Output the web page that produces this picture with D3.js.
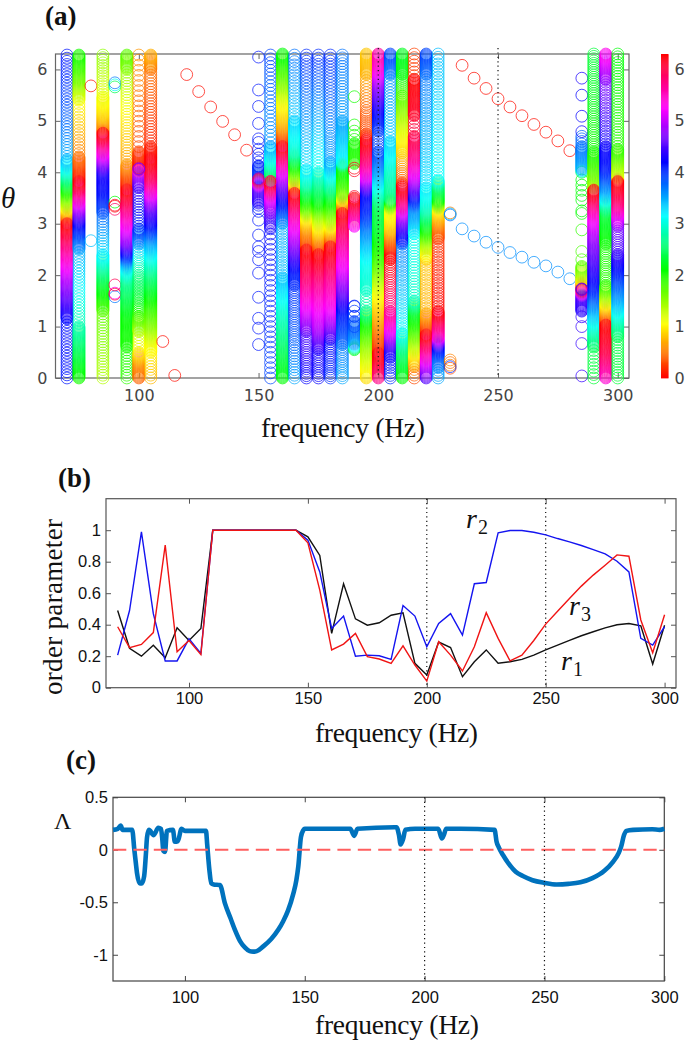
<!DOCTYPE html>
<html><head><meta charset="utf-8">
<script src="https://cdn.jsdelivr.net/npm/d3@7"></script>
<style>
html,body{margin:0;padding:0;background:#fff}
svg{display:block}
text{font-family:"Liberation Sans",sans-serif}
.serif{font-family:"Liberation Serif",serif;fill:#111}
</style></head><body><div id="c"></div>
<script>
// Panel (a): columns of phase stops: [theta, colour value (unwrapped), spacing to next stop]
const col70=[[0,4.1,.06],[1.15,4.15,.018],[1.5,4.5,.018],[2,5,.018],[3,6.28,.018],[3.3,7.4,.018],[3.6,8.2,.018],[4,9.3,.018],[4.25,9.7,.06],[5,10.05,.06],[6.28,10.4,0]];
const col75=[[0,2,.018],[1,2.8,.06],[2.5,3.5,.018],[3,4.2,.018],[3.5,5.5,.018],[3.82,6.28,.018],[4.3,6.75,.065],[5.4,7.35,.018],[5.8,7.9,.018],[6.28,8.3,0]];
const col85=[[0,1.35,.055],[1.3,1.7,.018],[1.84,2.3,.018],[2.1,2.7,.018],[2.4,3.2,.055],[3.2,3.8,.018],[3.55,4.1,.018],[4,4.3,.018],[4.25,5,.018],[4.76,6.28,.018],[4.85,6.8,.018],[5.15,7.2,.018],[5.47,7.4,.05],[6.28,7.8,0]];
const col95=[[0,1.9,.055],[.6,2,.018],[1.2,2.1,.018],[1.9,2.7,.018],[2.2,3.4,.018],[2.35,4,.018],[2.65,4.8,.018],[3,5.3,.018],[3.66,6.28,.018],[4.15,6.9,.055],[5.4,7.4,.055],[6,7.8,.018],[6.28,8,0]];
const col100=[[0,.4,.018],[.3,.6,.018],[.5,.95,.055],[.9,1.3,.018],[1.2,1.8,.04],[1.5,2.2,.03],[2,2.6,.045],[2.3,3,.05],[2.6,3.5,.018],[2.9,4,.055],[3.7,4.4,.018],[4,5,.018],[4.08,6.28,.018],[4.4,6.55,.1],[6.28,6.9,0]];
const col105=[[0,.75,.055],[.5,1,.018],[.7,1.1,.018],[1,1.5,.018],[1.5,2,.018],[2,2.6,.018],[2.35,3.1,.018],[2.7,3.6,.018],[3,4.2,.018],[3.3,4.6,.018],[3.6,5.3,.018],[3.9,5.9,.018],[4.27,6.28,.018],[4.5,6.4,.055],[6,6.75,.018],[6.28,7,0]];
const col155=[[0,3.9,.1],[2.9,4.2,.03],[3.2,4.6,.018],[3.5,5.2,.018],[3.82,6.28,.018],[3.83,8.5,.018],[4.2,9.3,.018],[4.5,9.8,.075],[6.28,10.2,0]];
const col160=[[0,2.1,.018],[.3,2.3,.018],[1.4,3,.018],[1.95,3.4,.05],[3,3.5,.018],[3.46,4.2,.018],[3.85,4.9,.018],[4.1,5.4,.018],[4.5,6.28,.018],[4.9,7,.018],[5.4,7.4,.018],[5.7,7.8,.018],[6.3,8.4,0]];
const col165=[[0,3.5,.055],[.7,3.8,.045],[1.8,4,.018],[2.1,4.1,.018],[2.6,4.8,.018],[3.07,5.4,.018],[3.59,6.28,.018],[3.65,6.7,.018],[3.85,7.6,.018],[4.1,8.3,.018],[4.4,9.2,.018],[5,9.6,.065],[6.28,10,0]];
const col170=[[0,4.2,.045],[.9,4.5,.018],[1.06,4.8,.018],[1.39,5.2,.018],[1.84,5.7,.018],[2.49,6.28,.018],[2.6,6.6,.018],[2.88,6.9,.018],[3.14,7.4,.018],[3.3,8,.018],[3.6,8.7,.018],[3.8,9.2,.018],[4.05,9.5,.06],[6.28,10.3,0]];
const col175=[[0,4.2,.045],[.55,4.3,.018],[.95,4.9,.018],[1.32,5.2,.018],[1.97,5.8,.018],[2.4,6.28,.018],[2.68,6.9,.018],[3.1,7.6,.018],[3.46,8.5,.018],[4,9.3,.06],[6.28,10.3,0]];
const col180=[[0,4,.045],[.75,4.2,.018],[.8,4.4,.018],[1.1,4.9,.018],[1.45,5.3,.018],[1.97,5.7,.018],[2.55,6.28,.018],[2.8,7,.018],[3.1,7.7,.018],[3.5,8.5,.018],[3.7,9,.018],[4.2,9.8,.045],[4.8,9.9,.06],[6.28,10.3,0]];
const col185=[[0,3.5,.045],[.65,3.7,.018],[.8,3.8,.018],[1.3,4.1,.018],[1.65,4.6,.018],[2.17,5.2,.018],[2.94,5.9,.018],[3.2,6.28,.018],[3.3,6.6,.018],[3.6,7.9,.018],[4.1,8.5,.018],[4.2,9.4,.018],[5,9.8,.055],[6.28,10,0]];
const col190=[[.55,2.2,.018],[.67,3.5,.018],[1.1,3.9,.1],[1.4,4,null],[2.95,5.2,.018],[3.27,5.8,.018],[3.5,6.28,null],[4.17,8.2,.018],[4.56,8.3,.09],[4.8,8.3,null],[4.92,8.3,null],[5.47,8.3,0]];
const col195=[[0,.9,.018],[.15,1,.018],[.67,1.5,.018],[1.1,2.1,.018],[1.3,2.7,.06],[1.7,2.9,.018],[2.3,3.1,.018],[2.95,3.7,.018],[3.2,4,.018],[3.6,4.2,.018],[3.9,5.2,.018],[4.24,5.8,.018],[4.63,6.28,.018],[4.75,6.55,.04],[5.2,6.65,.06],[5.9,7,.018],[6.3,7.1,0]];
const col200=[[0,5.7,.018],[.15,5.9,.018],[.48,6.28,.018],[.55,6.45,.018],[1.06,6.9,.018],[1.7,7.4,.018],[2.3,8.1,.018],[2.95,8.6,.018],[3.33,8.7,.018],[3.65,9.3,.018],[4,9.8,.018],[4.4,10.2,.05],[4.8,10.2,.018],[5.2,10.5,.018],[5.7,11.1,.018],[6.05,11.7,.018],[6.3,11.9,0]];
const col205=[[0,4,.05],[.4,4.2,.018],[.55,4.3,.018],[.87,5.1,.018],[1.3,5.7,.045],[2.3,6.28,.018],[2.43,6.29,.018],[2.6,6.6,.018],[2.9,7.1,.018],[3.27,7.4,.018],[3.5,8.9,.018],[4.2,9.3,.018],[4.6,9.6,.06],[5.9,9.9,.018],[6.3,10.2,0]];
const col210=[[0,2.1,.018],[.15,2.2,.018],[.55,2.6,.018],[.87,3.1,.05],[2.6,3.7,.018],[2.7,4.1,.018],[3,4.6,.018],[3.2,5.1,.018],[3.4,5.7,.018],[3.73,6.28,.018],[3.8,6.55,.045],[4.37,7.1,.018],[4.9,7.5,.018],[5.5,8,.04],[5.9,8.4,.018],[6.3,8.5,0]];
const col215=[[0,.3,.055],[.22,.6,.018],[.55,1.2,.018],[1,1.9,.018],[1.3,2.3,.018],[1.5,2.9,.055],[2.8,3.1,.018],[3.14,3.5,.018],[3.3,3.6,.018],[3.55,4.3,.018],[3.9,5.1,.018],[4.3,5.7,.018],[4.7,6,.065],[5.1,6.1,.018],[5.8,6.28,.018],[5.81,6.5,.07],[6.3,6.55,0]];
const col220=[[0,4.5,.018],[.15,4.8,.018],[.41,5.4,.018],[.84,6.28,.018],[1.06,6.7,.018],[1.26,7,.05],[2.3,7.1,.018],[2.62,7.7,.018],[2.95,8.5,.018],[3.3,9.2,.018],[3.7,9.5,.05],[5.9,10,.018],[6.3,10.2,0]];
const col225=[[0,3.5,.05],[.2,3.6,.018],[.4,3.8,.018],[.6,4.2,.018],[.8,5.4,.018],[1.3,6.28,.05],[2.7,6.5,.018],[2.95,6.8,.018],[3.27,7.3,.018],[3.45,8.4,.018],[3.7,8.8,.018],[3.85,9.4,.065],[6.3,9.7,0]];
const col285=[[1.3,4.3,.018],[1.58,4.5,.018],[1.73,6.28,.018],[1.9,7.4,.018],[2.17,8,null],[4,8.7,.018],[4.05,9.7,.018],[4.5,10,.055],[4.7,10.1,0]];
const col290=[[0,2.3,.07],[.6,2.4,.018],[.8,2.7,.018],[1,3,.018],[1.33,3.5,.018],[1.77,4.1,.018],[2.7,4.8,.018],[3.14,5.3,.018],[3.4,5.8,.018],[3.65,6.28,.018],[3.7,7.7,.018],[4.4,8.3,.045],[6.3,8.6,0]];
const col295=[[0,5.4,.018],[.55,6,.018],[1.03,6.28,.018],[1.26,6.9,.018],[1.5,7.5,.018],[1.8,8.2,.045],[2.6,8.3,.018],[3.2,8.6,.018],[3.45,9.4,.018],[3.7,9.9,.018],[4.1,10.4,.018],[4.5,10.5,.05],[5.8,11,.018],[6.3,11.6,0]];
const col300=[[0,2.3,.055],[.8,2.4,.018],[1,2.7,.018],[1.45,3.4,.018],[2.1,4.1,.018],[2.4,4.4,.045],[2.95,4.7,.018],[3.14,5.2,.018],[3.4,5.8,.018],[3.82,6.28,.018],[3.9,7.4,.018],[4.45,8.2,.055],[6.3,8.4,0]];
const stopColumns=[[70,col70],[75,col75],[85,col85],[95,col95],[100,col100],[105,col105],[155,col155],[160,col160],[165,col165],[170,col170],[175,col175],[180,col180],[185,col185],[190,col190],[195,col195],[200,col200],[205,col205],[210,col210],[215,col215],[220,col220],[225,col225],[285,col285],[290,col290],[295,col295],[300,col300]];
// isolated circles: [frequency, theta, colour value]
const isoLow=[[80,5.68,.05],[80,2.67,3.4],[90,5.74,3.7],[90,5.7,3.1],[90,5.66,2.4],[90,3.42,2.1],[90,3.28,5.9],[90,3.36,6.2],[90,3.34,6.25],[90,1.81,5.95],[90,1.58,3.7],[90,1.65,5.3],[90,1.63,6.1],[110,.71,.05],[115,.05,.05]];
const isoRedA=[[120,5.9],[125,5.57],[130,5.27],[135,4.99],[140,4.73],[145,4.43]];
const isoRedB=[[235,6.08],[240,5.83],[245,5.63],[250,5.43],[255,5.27],[260,5.1],[265,4.93],[270,4.78],[275,4.61],[280,4.42]];
const isoBlueB=[[235,2.9],[240,2.76],[245,2.64],[250,2.54],[255,2.44],[260,2.35],[265,2.25],[270,2.18],[275,2.06],[280,1.93]];
const iso150=[6.24,5.6,5.28,4.95,4.65,4.58,4.45,4.35,4.28,4.2,4.12,3.36,3.3,3.24,3.07,2.78,2.55,2.46,2.3,2.04,1.57,1.16,.97,.65];
const stops150=[[3.4,4.3,.02],[3.7,4.6,.018],[3.87,6.28,.018],[3.88,3.9,.018],[4.12,4,0]];
const iso230=[[230,3.21,.5],[230,3.19,3.4],[230,3.17,3.7],[230,.35,.55],[230,.3,.45],[230,.25,.55],[230,.22,4],[230,.19,.3]];
const iso285=[[285,5.83,4.3],[285,5.5,4.2],[285,5.09,4.2],[285,4.79,4.2],[285,3.85,2.1],[285,3.75,2.1],[285,3.65,2.1],[285,3.55,2.1],[285,3.46,2.1],[285,3.25,2.1],[285,3.2,2.05],[285,2.88,1.9],[285,2.46,1.8],[285,2.3,1.8],[285,1.19,4.4],[285,1,4.4],[285,.67,4.4],[285,.04,4.4]];
const iso190=[[190,4.08,6.2],[190,4.03,6.15],[190,3.53,6.1],[190,1.39,4.1],[190,1.2,3.9],[190,1,3.9]];
const overlays=[[100,4.07,4.8],[100,4.06,4.7],[150,3.87,4.8],[155,3.82,5.6],[285,1.73,4.5],[285,1.72,4.6]];

// Panel (b)
const freqB=[70,75,80,85,90,95,100,105,110,115,120,125,130,135,140,145,150,155,160,165,170,175,180,185,190,195,200,205,210,215,220,225,230,235,240,245,250,255,260,265,270,275,280,285,290,295,300];
const r1=[.49,.25,.20,.27,.19,.38,.30,.376,1,1,1,1,1,1,1,1,.958,.84,.345,.66,.437,.397,.412,.46,.476,.155,.08,.29,.255,.07,.165,.24,.155,.165,.18,.207,.24,.27,.30,.33,.355,.38,.40,.408,.393,.15,.397];
const r2=[.207,.49,.99,.47,.17,.17,.31,.218,1,1,1,1,1,1,1,1,.937,.735,.376,.455,.20,.207,.203,.18,.522,.455,.26,.408,.47,.334,.66,.668,.983,.998,.998,.987,.97,.947,.926,.903,.877,.85,.803,.735,.313,.27,.387];
const r3=[.387,.254,.275,.35,.905,.228,.30,.21,1,1,1,1,1,1,1,1,.92,.62,.24,.277,.345,.197,.182,.154,.266,.144,.042,.292,.207,.106,.26,.476,.313,.171,.207,.30,.404,.486,.567,.645,.715,.778,.843,.835,.43,.222,.463];

// Panel (c)
const freqC=[70,72,73.2,74,78,78.9,79.5,80,81.2,82,83,83.7,84.2,85,87,88.9,90,90.5,91,91.7,92.5,95,95.8,97,98.6,100,105,108.8,109.3,110.2,111,112,114.6,116.7,119,121,123,125,127,128.5,130,132.7,136,139,141,143,145.2,146.5,147.3,148.4,149.4,150,165,169,170.6,172,187.5,188.3,189.3,190,191,192,196,205.7,207.2,208,209,215,229.2,230,231,232.7,235,238,241,245,250,255,260,265,270,275,278.6,281,282,283.2,284.2,287,295,298,300];
const lambda=[.19,.2,.23,.19,.19,0,-.12,-.22,-.32,-.32,-.25,-.05,.12,.19,.14,.21,.2,.12,-.01,-.02,.18,.19,.076,.08,.2,.18,.18,.18,.05,-.19,-.32,-.33,-.336,-.51,-.65,-.77,-.87,-.93,-.965,-.97,-.965,-.92,-.85,-.76,-.68,-.58,-.42,-.29,-.16,.12,.187,.2,.2,.2,.133,.2,.215,.215,.14,.05,.1,.19,.2,.2,.108,.14,.2,.2,.19,.08,.02,-.05,-.13,-.21,-.25,-.29,-.315,-.33,-.325,-.31,-.27,-.2,-.114,-.03,.03,.14,.18,.19,.195,.19,.2];

const fTicks=[100,150,200,250,300];
const W=685,H=1044,TAU=6.2832;
const svg=d3.select("#c").append("svg").attr("width",W).attr("height",H).attr("viewBox",[0,0,W,H]);
const hue=c=>d3.hsl(((c%TAU)+TAU)%TAU/TAU*360,1,.5).formatHex();

function expand(f,stops){
  const out=[];
  stops.forEach((s,i)=>{
    const n=stops[i+1];
    out.push([f,s[0],s[1]]);
    if(!n||!s[2])return;
    const k=Math.max(1,Math.round((n[0]-s[0])/s[2]));
    for(let j=1;j<k;j++){const t=j/k;out.push([f,s[0]+(n[0]-s[0])*t,s[1]+(n[1]-s[1])*t]);}
  });
  return out;
}
function frame(g,x,y,col,fticks,yticks,fmtY,padX,padY,fontFam,fs,txtCol){
  const [x0,x1]=x.range(),[y0,y1]=y.range();
  g.append("rect").attr("x",x0).attr("y",y1).attr("width",x1-x0).attr("height",y0-y1).attr("fill","none").attr("stroke",col).attr("stroke-width",1.2);
  const ax=g.append("g").attr("transform",`translate(0,${y0})`).call(d3.axisBottom(x).tickValues(fticks).tickSizeInner(-5).tickSizeOuter(0).tickPadding(padX));
  const ay=g.append("g").attr("transform",`translate(${x0},0)`).call(d3.axisLeft(y).tickValues(yticks).tickFormat(fmtY).tickSizeInner(-5).tickSizeOuter(0).tickPadding(padY));
  const at=g.append("g").attr("transform",`translate(0,${y1})`).call(d3.axisTop(x).tickValues(fticks).tickFormat("").tickSizeInner(-5).tickSizeOuter(0));
  const ar=g.append("g").attr("transform",`translate(${x1},0)`).call(d3.axisRight(y).tickValues(yticks).tickFormat("").tickSizeInner(-5).tickSizeOuter(0));
  [ax,ay,at,ar].forEach(a=>{a.select(".domain").remove();a.selectAll("line").attr("stroke",col);
    a.selectAll("text").attr("fill",txtCol).style("font-family",fontFam).style("font-size",fs+"px");});
}
function label(t,x,y,size,opt={}){
  const e=svg.append("text").attr("class","serif").attr("x",x).attr("y",y).style("font-size",size+"px").text(t);
  if(opt.bold)e.style("font-weight","bold");
  if(opt.italic)e.style("font-style","italic");
  if(opt.rotate)e.attr("transform",`rotate(${opt.rotate} ${x} ${y})`);
  if(opt.len)e.attr("textLength",opt.len).attr("lengthAdjust","spacing");
  return e;
}

// ---------- (a)
const xA=d3.scaleLinear().domain([65.2,304.7]).range([55.5,629]);
const yA=d3.scaleLinear().domain([0,6.3]).range([378,54]);
const gA=svg.append("g");
frame(gA,xA,yA,"#666",fTicks,[0,1,2,3,4,5,6],d3.format("d"),12,8,"'DejaVu Sans'",16,"#444");

const singles=[...isoLow,...isoRedA.map(d=>[d[0],d[1],.05]),...isoRedB.map(d=>[d[0],d[1],.05]),...isoBlueB.map(d=>[d[0],d[1],3.6]),...iso150.map(t=>[150,t,4.1]),...iso230,...iso285,...iso190];
const pts=[...singles];
stopColumns.forEach(([f,s])=>pts.push(...expand(f,s)));
pts.push(...expand(150,stops150));
const cm=c=>((c%TAU)+TAU)%TAU;
const drawn=d3.sort(pts,d=>d[0],d=>cm(d[2]));
const gPts=svg.append("g").attr("fill","none").attr("stroke-width",1).attr("stroke-opacity",.72);
gPts.selectAll("circle").data([...drawn,...overlays]).join("circle")
  .attr("cx",d=>xA(d[0])).attr("cy",d=>yA(d[1])).attr("r",5.9).attr("stroke",d=>hue(d[2]));

[200,250].forEach(f=>svg.append("line").attr("x1",xA(f)).attr("x2",xA(f)).attr("y1",48).attr("y2",378).attr("stroke","#111").attr("stroke-width",1.2).attr("stroke-dasharray","1.2 3.2"));

// colour bar
const cbar=svg.append("g");
cbar.selectAll("rect").data(d3.range(0,TAU,.02)).join("rect").attr("x",661).attr("width",7.5)
  .attr("y",d=>yA(d+.02)).attr("height",d=>yA(d)-yA(d+.02)+.4).attr("fill",d=>hue(d));
const cax=cbar.append("g").attr("transform","translate(668.5,0)").call(d3.axisRight(yA).tickValues([0,1,2,3,4,5,6]).tickFormat(d3.format("d")).tickSize(0).tickPadding(6));
cax.select(".domain").remove();
cax.selectAll("text").attr("fill","#444").style("font-family","'DejaVu Sans'").style("font-size","16px");

// ---------- (b)
const xB=d3.scaleLinear().domain([65.1,304.8]).range([106,676]);
const yB=d3.scaleLinear().domain([0,1.2]).range([687.7,498.7]);
const gB=svg.append("g");
frame(gB,xB,yB,"#555",fTicks,[0,.2,.4,.6,.8,1],d=>d===0?"0":d===1?"1":d3.format(".1f")(d),5,5,"'Liberation Sans'",16.5,"#111");
[200,250].forEach(f=>svg.append("line").attr("x1",xB(f)).attr("x2",xB(f)).attr("y1",498.7).attr("y2",687.7).attr("stroke","#111").attr("stroke-width",1.2).attr("stroke-dasharray","1.2 3.2"));
const lineB=d3.line().x((d,i)=>xB(freqB[i])).y(d=>yB(d));
[[r1,"#111"],[r2,"#1414f0"],[r3,"#f01414"]].forEach(([v,c])=>svg.append("path").attr("d",lineB(v)).attr("fill","none").attr("stroke",c).attr("stroke-width",1.4));

// ---------- (c)
const xC=d3.scaleLinear().domain([70,300]).range([113,664.3]);
const yC=d3.scaleLinear().domain([-1.25,.5]).range([981,797.3]);
const gC=svg.append("g");
frame(gC,xC,yC,"#444",fTicks,[-1,-.5,0,.5],d=>d===0?"0":d===-1?"-1":d===.5?"0.5":"-0.5",10,5,"'Liberation Sans'",16.5,"#111");
svg.append("path").attr("d",d3.line().x((d,i)=>xC(freqC[i])).y(d=>yC(d)).curve(d3.curveMonotoneX)(lambda)).attr("fill","none").attr("stroke","#0072BD").attr("stroke-width",4.6).attr("stroke-linejoin","round");
svg.append("line").attr("x1",113).attr("x2",664.3).attr("y1",yC(0)).attr("y2",yC(0)).attr("stroke","#ff5f5f").attr("stroke-width",2).attr("stroke-dasharray","13.3 7.1");
[200,250].forEach(f=>svg.append("line").attr("x1",xC(f)).attr("x2",xC(f)).attr("y1",797.3).attr("y2",981).attr("stroke","#111").attr("stroke-width",1.2).attr("stroke-dasharray","1.2 3.2"));

// ---------- labels
label("(a)",45,25,27,{bold:true});
label("(b)",58,487,27,{bold:true});
label("(c)",66,769,27,{bold:true});
label("θ",1,208,29,{italic:true});
label("frequency (Hz)",261,437,27.5,{len:164});
label("frequency (Hz)",315,742,27.5,{len:163});
label("frequency (Hz)",315,1034,27.5,{len:164});
label("order parameter",62,695,27,{rotate:-90,len:176});
label("Λ",54,829,24);
[["2",466,528],["3",569,615],["1",561,670]].forEach(([s,x,y])=>{
  label("r",x,y,28,{italic:true});
  label(s,x+12,y+6,20);
});
</script></body></html>
